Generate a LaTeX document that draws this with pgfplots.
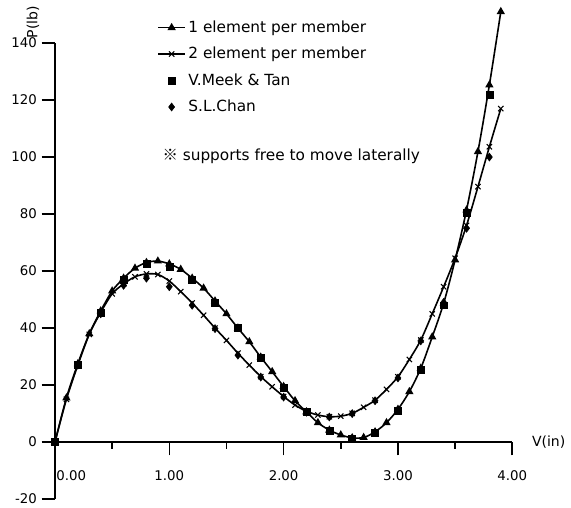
\documentclass[border=0pt]{standalone}
\usepackage{fontspec}
\setmainfont{DejaVu Sans}
\newfontfamily\cjk{Noto Sans CJK KR}
\usepackage{pgfplots}
\pgfplotsset{compat=1.18}

\begin{document}
\begin{tikzpicture}
\begin{axis}[
    scale only axis,
    width=342.9pt, height=342pt,
    xmin=0, xmax=4, ymin=-20, ymax=140,
    axis x line=middle, axis y line=left,
    axis line style={-, line width=1.3pt},
    clip=false,
    xtick={0,1,2,3,4},
    xticklabels={\makebox[0pt][l]{\hspace{1pt}0.00},1.00,2.00,3.00,4.00},
    minor xtick={0.5,1.5,2.5,3.5},
    ytick={-20,0,20,40,60,80,100,120,140},
    tick align=outside,
    major tick length=10pt, minor tick length=5pt,
    every tick/.style={black, line width=1.2pt},
    hide obscured x ticks=false, hide obscured y ticks=false,
    ticklabel style={font=\fontsize{10}{12}\selectfont},
    xticklabel style={yshift=-8pt},
    /pgf/number format/assume math mode=true,
    xlabel={V(in)}, ylabel={P(lb)},
    label style={font=\fontsize{10.5}{12}\selectfont},
    xlabel style={at={(axis description cs:1.033,0.125)}, anchor=west},
    ylabel style={at={(axis description cs:-0.048,1.046)}, anchor=center, rotate=0},
    legend style={at={(axis description cs:0.215,1.061)}, anchor=north west,
        draw=none, fill=none, font=\fontsize{11.5}{13}\selectfont,
        row sep=5.6pt, legend cell align=left,
        /tikz/every even column/.append style={column sep=5pt}},
    legend image code/.code={
        \draw[mark repeat=2,mark phase=2] plot coordinates {(0cm,0cm) (0.35cm,0cm) (0.7cm,0cm)};},
]
% 1 element per member
\addplot[black, line width=1.2pt, smooth, mark=triangle*, mark size=2.4pt, mark options={solid}] coordinates {
(0,0) (0.1,15.5) (0.2,27.5) (0.3,38) (0.4,46) (0.5,53) (0.6,57.5) (0.7,61) (0.8,63) (0.9,63.5)
(1.0,62.5) (1.1,60.6) (1.2,57.5) (1.3,54) (1.4,49.5) (1.5,45) (1.6,40) (1.7,35.2) (1.8,29.8) (1.9,24.7)
(2.0,19.5) (2.1,14.5) (2.2,10.6) (2.3,6.8) (2.4,4.2) (2.5,2.5) (2.6,1.5) (2.7,1.6) (2.8,3.6) (2.9,6.8)
(3.0,11.5) (3.1,17.7) (3.2,25.9) (3.3,36.9) (3.4,48.7) (3.5,63.9) (3.6,81.4) (3.7,101.9) (3.8,125.3) (3.9,151)
};
\addlegendentry{1 element per member}
% 2 element per member
\addplot[black, line width=1.2pt, smooth, mark=x, mark size=2.8pt, mark options={solid, line width=0.8pt}] coordinates {
(0,0) (0.1,15) (0.2,27) (0.3,37.8) (0.4,45.5) (0.5,52) (0.6,55.5) (0.7,58) (0.8,59) (0.9,58.8)
(1.0,56.5) (1.1,52.8) (1.2,48.8) (1.3,44.5) (1.4,40) (1.5,35.7) (1.6,31.2) (1.7,27) (1.8,23) (1.9,19.4)
(2.0,16) (2.1,13) (2.2,10.8) (2.3,9.5) (2.4,8.9) (2.5,9.1) (2.6,10.1) (2.7,12.2) (2.8,14.7) (2.9,18.5)
(3.0,22.9) (3.1,29) (3.2,35.8) (3.3,45) (3.4,54.5) (3.5,64.5) (3.6,76) (3.7,89.6) (3.8,103.6) (3.9,117)
};
\addlegendentry{2 element per member}
% V.Meek & Tan
\addplot[black, only marks, mark=square*, mark size=2.6pt] coordinates {
(0,0) (0.2,27) (0.4,45.5) (0.6,57) (0.8,62.5) (1.0,61.5) (1.2,57) (1.4,49) (1.6,40) (1.8,29.5)
(2.0,19) (2.2,10.5) (2.4,4) (2.6,1.3) (2.8,3.3) (3.0,11) (3.2,25.5) (3.4,48) (3.6,80.5) (3.8,121.8)
};
\addlegendentry{V.Meek \& Tan}
% S.L.Chan
\addplot[black, only marks, mark=diamond*, mark size=3pt] coordinates {
(0,0) (0.2,27) (0.4,45) (0.6,55) (0.8,57.5) (1.0,54.5) (1.2,48) (1.4,39.8) (1.6,30.5) (1.8,22.8)
(2.0,15.8) (2.2,10.5) (2.4,8.8) (2.6,10) (2.8,14.5) (3.0,22.5) (3.2,35.5) (3.4,49) (3.6,75) (3.8,100)
};
\addlegendentry{S.L.Chan}
\node[anchor=west, font=\fontsize{11.5}{13}\selectfont] at (axis cs:0.90,100.2) {{\cjk ※} supports free to move laterally};
\coordinate (bbsw) at (axis cs:-0.481,-22.8);
\coordinate (bbne) at (axis cs:4.514,155.1);
\end{axis}
\pgfresetboundingbox
\path (bbsw) rectangle (bbne);
\end{tikzpicture}
\end{document}
